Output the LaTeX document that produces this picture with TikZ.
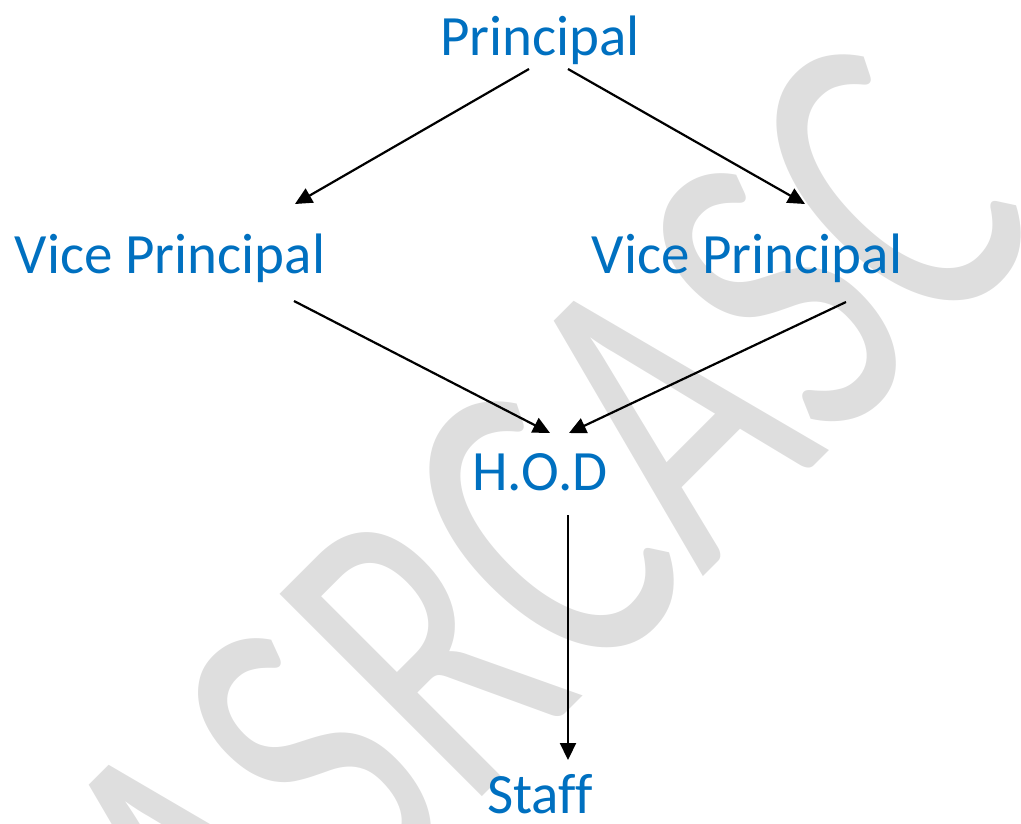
\documentclass[tikz,border=0pt]{standalone}
\usepackage{fontspec}
\setmainfont{Carlito}[Ligatures=NoCommon]
\usetikzlibrary{arrows.meta}
\definecolor{headblue}{RGB}{0,112,192}
\definecolor{markgray}{RGB}{222,222,222}

\begin{document}
\begin{tikzpicture}[x=1pt,y=-1pt]
		\tikzset{role/.style = {text=headblue, inner sep=0pt, anchor=base, font=\fontsize{57}{60}\selectfont}}
		\tikzset{wmark/.style = {text=markgray, inner sep=0pt, anchor=base west, font=\fontsize{446}{446}\selectfont}}
		\tikzset{arr/.style = {-{Triangle[length=17pt,width=16pt]}, line width=2.2pt}}
		\useasboundingbox (0,0) rectangle (1021,823);
		\clip (0,0) rectangle (1021,823);
		% watermark
		\node[wmark, rotate=45, xscale=0.7] (wm) at (237,1042) {ASRCASC};
		
		% vertices
		\node[role] (prin) at (540,55) {Principal};
		\node[role] (vpl) at (170,273) {Vice Principal};
		\node[role] (vpr) at (747,273) {Vice Principal};
		\node[role] (hod) at (540,490) {H.O.D};
		\node[role] (staff) at (540,813) {Staff};
		
		%edges
		\draw[arr] ([shift={(-11,14)}]prin.base) to ([shift={(125,-69)}]vpl.base);
		\draw[arr] ([shift={(28,14)}]prin.base) to ([shift={(58,-69)}]vpr.base);
		\draw[arr] ([shift={(124,28)}]vpl.base) to ([shift={(10,-57)}]hod.base);
		\draw[arr] ([shift={(99,29)}]vpr.base) to ([shift={(29,-57)}]hod.base);
		\draw[arr] ([shift={(28,25)}]hod.base) to ([shift={(28,-53)}]staff.base);
		
		\end{tikzpicture}
\end{document}
